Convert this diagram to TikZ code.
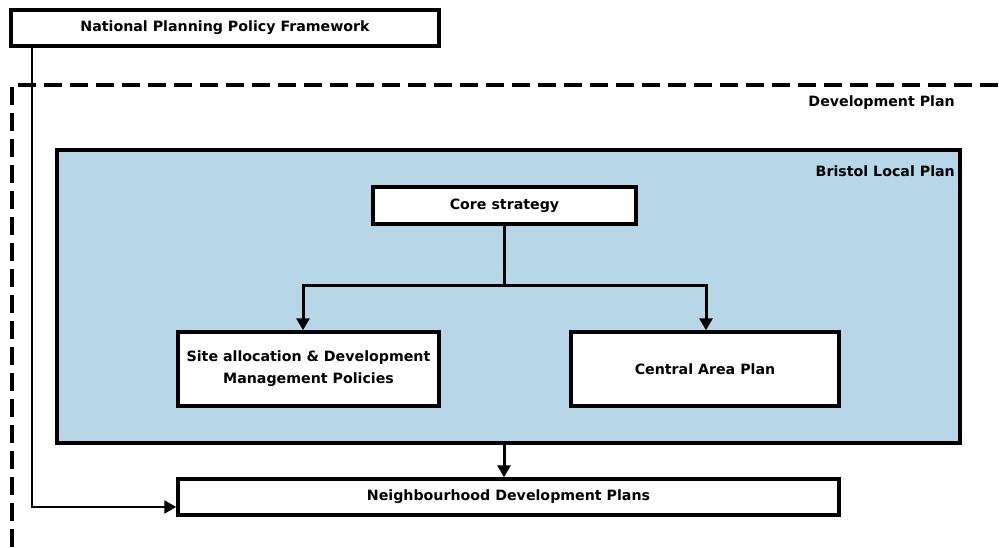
\documentclass[tikz,border=0pt]{standalone}
\usepackage{fontspec}
\setmainfont{DejaVu Sans}
\usepackage{tikz}
\usetikzlibrary{arrows.meta,positioning}

\definecolor{planblue}{RGB}{183,214,231}

\begin{document}
\begin{tikzpicture}[
    x=1pt, y=-1pt,
    planbox/.style={draw, line width=3.5pt, fill=white, align=center, inner sep=2pt,
        font=\bfseries\fontsize{14.2}{22}\selectfont},
    planlabel/.style={anchor=east, inner sep=0pt, font=\bfseries\fontsize{14.2}{17}\selectfont},
    planedge/.style={line width=3pt, -{Triangle[length=12pt,width=13pt]}},
    planline/.style={line width=3pt}
]
\useasboundingbox (0,0) rectangle (999,547);

% development plan frame (runs off the page)
\draw[line width=4.5pt, dash pattern=on 18pt off 8pt] (12,547) -- (12,85) -- (999,85);
\node[planlabel] (dplabel) at (955,103) {Development Plan};

% Bristol Local Plan panel
\node[draw, line width=3.5pt, fill=planblue, minimum width=903pt, minimum height=293pt,
    inner sep=0pt] (blp) at (508.5,296.5) {};
\node[planlabel] (blplabel) at (955,171) {Bristol Local Plan};

\node[planbox, minimum width=428pt, minimum height=36pt] (nppf) at (225,28) {National Planning Policy Framework};
\node[planbox, minimum width=263pt, minimum height=37pt] (core) at (504.5,205.5) {Core strategy};
\node[planbox, minimum width=261pt, minimum height=74pt] (site) at (308.5,369) {Site allocation \& Development\\Management Policies};
\node[planbox, minimum width=268pt, minimum height=74pt] (cap) at (705,369) {Central Area Plan};
\node[planbox, minimum width=661pt, minimum height=36pt] (ndp) at (508.5,497) {Neighbourhood Development Plans};

\coordinate (split) at (504,285);
\coordinate (bend) at (32,507);

\draw[planline] (core.south -| split) -- (split);
\draw[planedge] (split) -| ([xshift=-5.5pt]site.north);
\draw[planedge] (split) -| ([xshift=1pt]cap.north);
\draw[planedge] (blp.south -| split) -- (ndp.north -| split);
\draw[planedge, line width=2.2pt] (nppf.south -| bend) |- (ndp.west |- bend);
\end{tikzpicture}
\end{document}
